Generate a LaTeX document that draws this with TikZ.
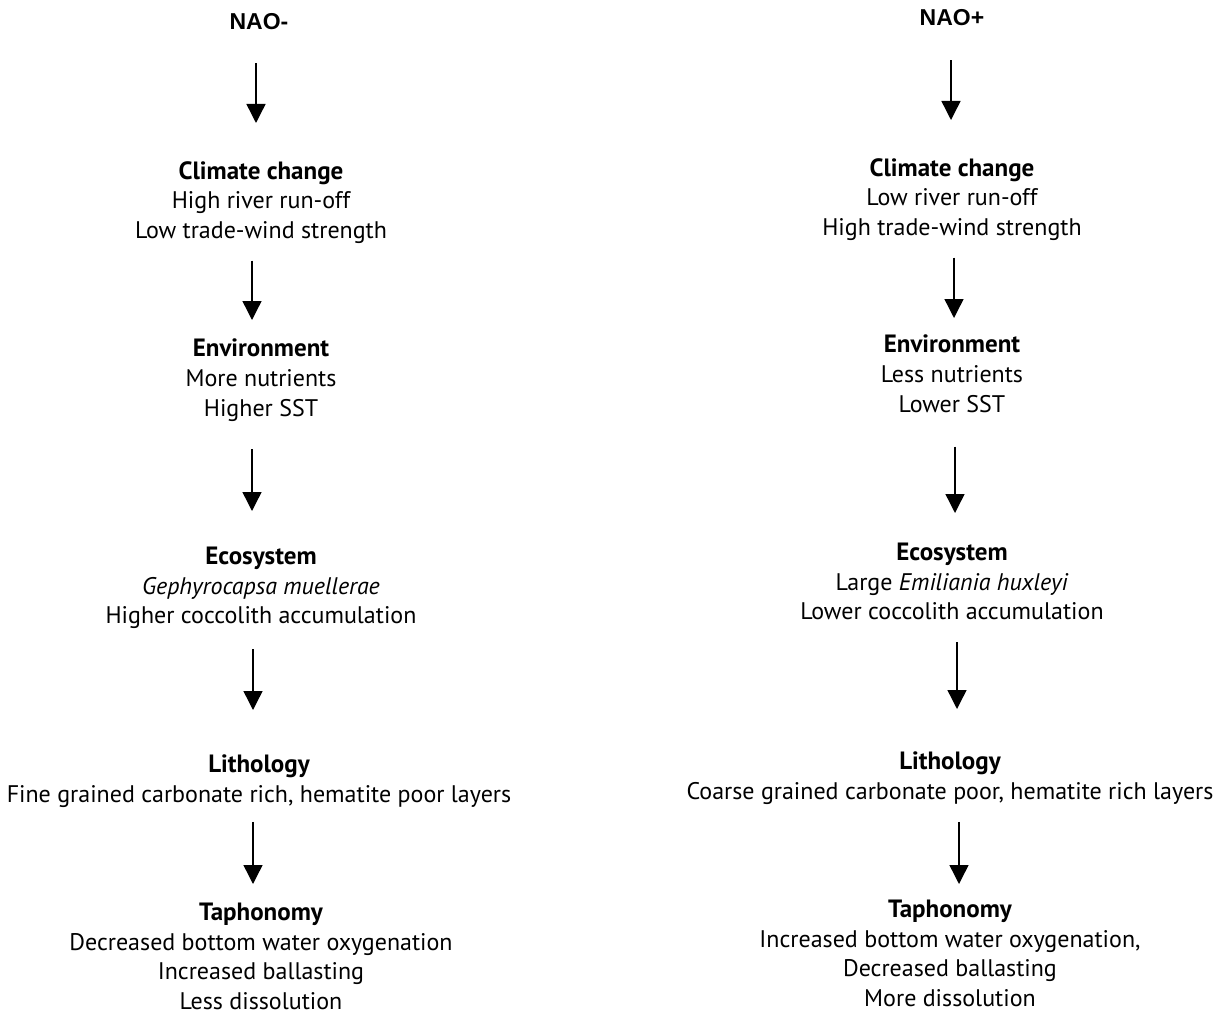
\documentclass[tikz,border=0pt]{standalone}
\usepackage{fontspec}
\setmainfont{PT Sans}
\newfontfamily\naofont{Liberation Sans}
\newcommand\ttl[1]{{\fontsize{25}{29.6}\selectfont\bfseries #1}}
\usetikzlibrary{arrows.meta}
\tikzset{
  blk/.style={align=center, anchor=north, inner sep=0pt, font=\fontsize{24}{29.6}\selectfont},
  nao/.style={anchor=center, inner sep=0pt, font=\naofont\bfseries\fontsize{23}{25}\selectfont},
  arr/.style={line width=1.4pt, -{Triangle[length=19pt,width=19pt]}},
}
\begin{document}
\begin{tikzpicture}[x=1pt,y=-1pt]
\useasboundingbox (0,0) rectangle (1224,1014);
% left column
\node[nao] (ln) at (259,22) {NAO-};
\node[blk] (l1) at (261,161) {\ttl{Climate change}\\High river run-off\\Low trade-wind strength};
\node[blk] (l2) at (261,339) {\ttl{Environment}\\More nutrients\\Higher SST};
\node[blk] (l3) at (261,547) {\ttl{Ecosystem}\\\textit{Gephyrocapsa muellerae}\\Higher coccolith accumulation};
\node[blk] (l4) at (259,755) {\ttl{Lithology}\\Fine grained carbonate rich, hematite poor layers};
\node[blk] (l5) at (261,903) {\ttl{Taphonomy}\\Decreased bottom water oxygenation\\Increased ballasting\\Less dissolution};
% right column
\node[nao] (rn) at (952,18) {NAO+};
\node[blk] (r1) at (952,158) {\ttl{Climate change}\\Low river run-off\\High trade-wind strength};
\node[blk] (r2) at (952,335) {\ttl{Environment}\\Less nutrients\\Lower SST};
\node[blk] (r3) at (952,543) {\ttl{Ecosystem}\\Large \textit{Emiliania huxleyi}\\Lower coccolith accumulation};
\node[blk] (r4) at (950,752) {\ttl{Lithology}\\Coarse grained carbonate poor, hematite rich layers};
\node[blk] (r5) at (950,900) {\ttl{Taphonomy}\\Increased bottom water oxygenation,\\Decreased ballasting\\More dissolution};
% arrows
\draw[arr, shorten <=33pt, shorten >=38pt] ([xshift=-3pt]ln.south) -- ([xshift=-3pt]ln.south |- l1.north);
\draw[arr, shorten <=17pt, shorten >=19pt] ([xshift=-9pt]l1.south) -- ([xshift=-9pt]l1.south |- l2.north);
\draw[arr, shorten <=28pt, shorten >=36pt] ([xshift=-9pt]l2.south) -- ([xshift=-9pt]l2.south |- l3.north);
\draw[arr, shorten <=20pt, shorten >=45pt] ([xshift=-8pt]l3.south) -- ([xshift=-8pt]l3.south |- l4.north);
\draw[arr, shorten <=14pt, shorten >=19pt] ([xshift=-6pt]l4.south) -- ([xshift=-6pt]l4.south |- l5.north);
\draw[arr, shorten <=34pt, shorten >=38pt] ([xshift=-1pt]rn.south) -- ([xshift=-1pt]rn.south |- r1.north);
\draw[arr, shorten <=17pt, shorten >=17pt] ([xshift=2pt]r1.south) -- ([xshift=2pt]r1.south |- r2.north);
\draw[arr, shorten <=34pt, shorten >=30pt] ([xshift=3pt]r2.south) -- ([xshift=3pt]r2.south |- r3.north);
\draw[arr, shorten <=22pt, shorten >=43pt] ([xshift=5pt]r3.south) -- ([xshift=5pt]r3.south |- r4.north);
\draw[arr, shorten <=17pt, shorten >=16pt] ([xshift=9pt]r4.south) -- ([xshift=9pt]r4.south |- r5.north);
\end{tikzpicture}
\end{document}
